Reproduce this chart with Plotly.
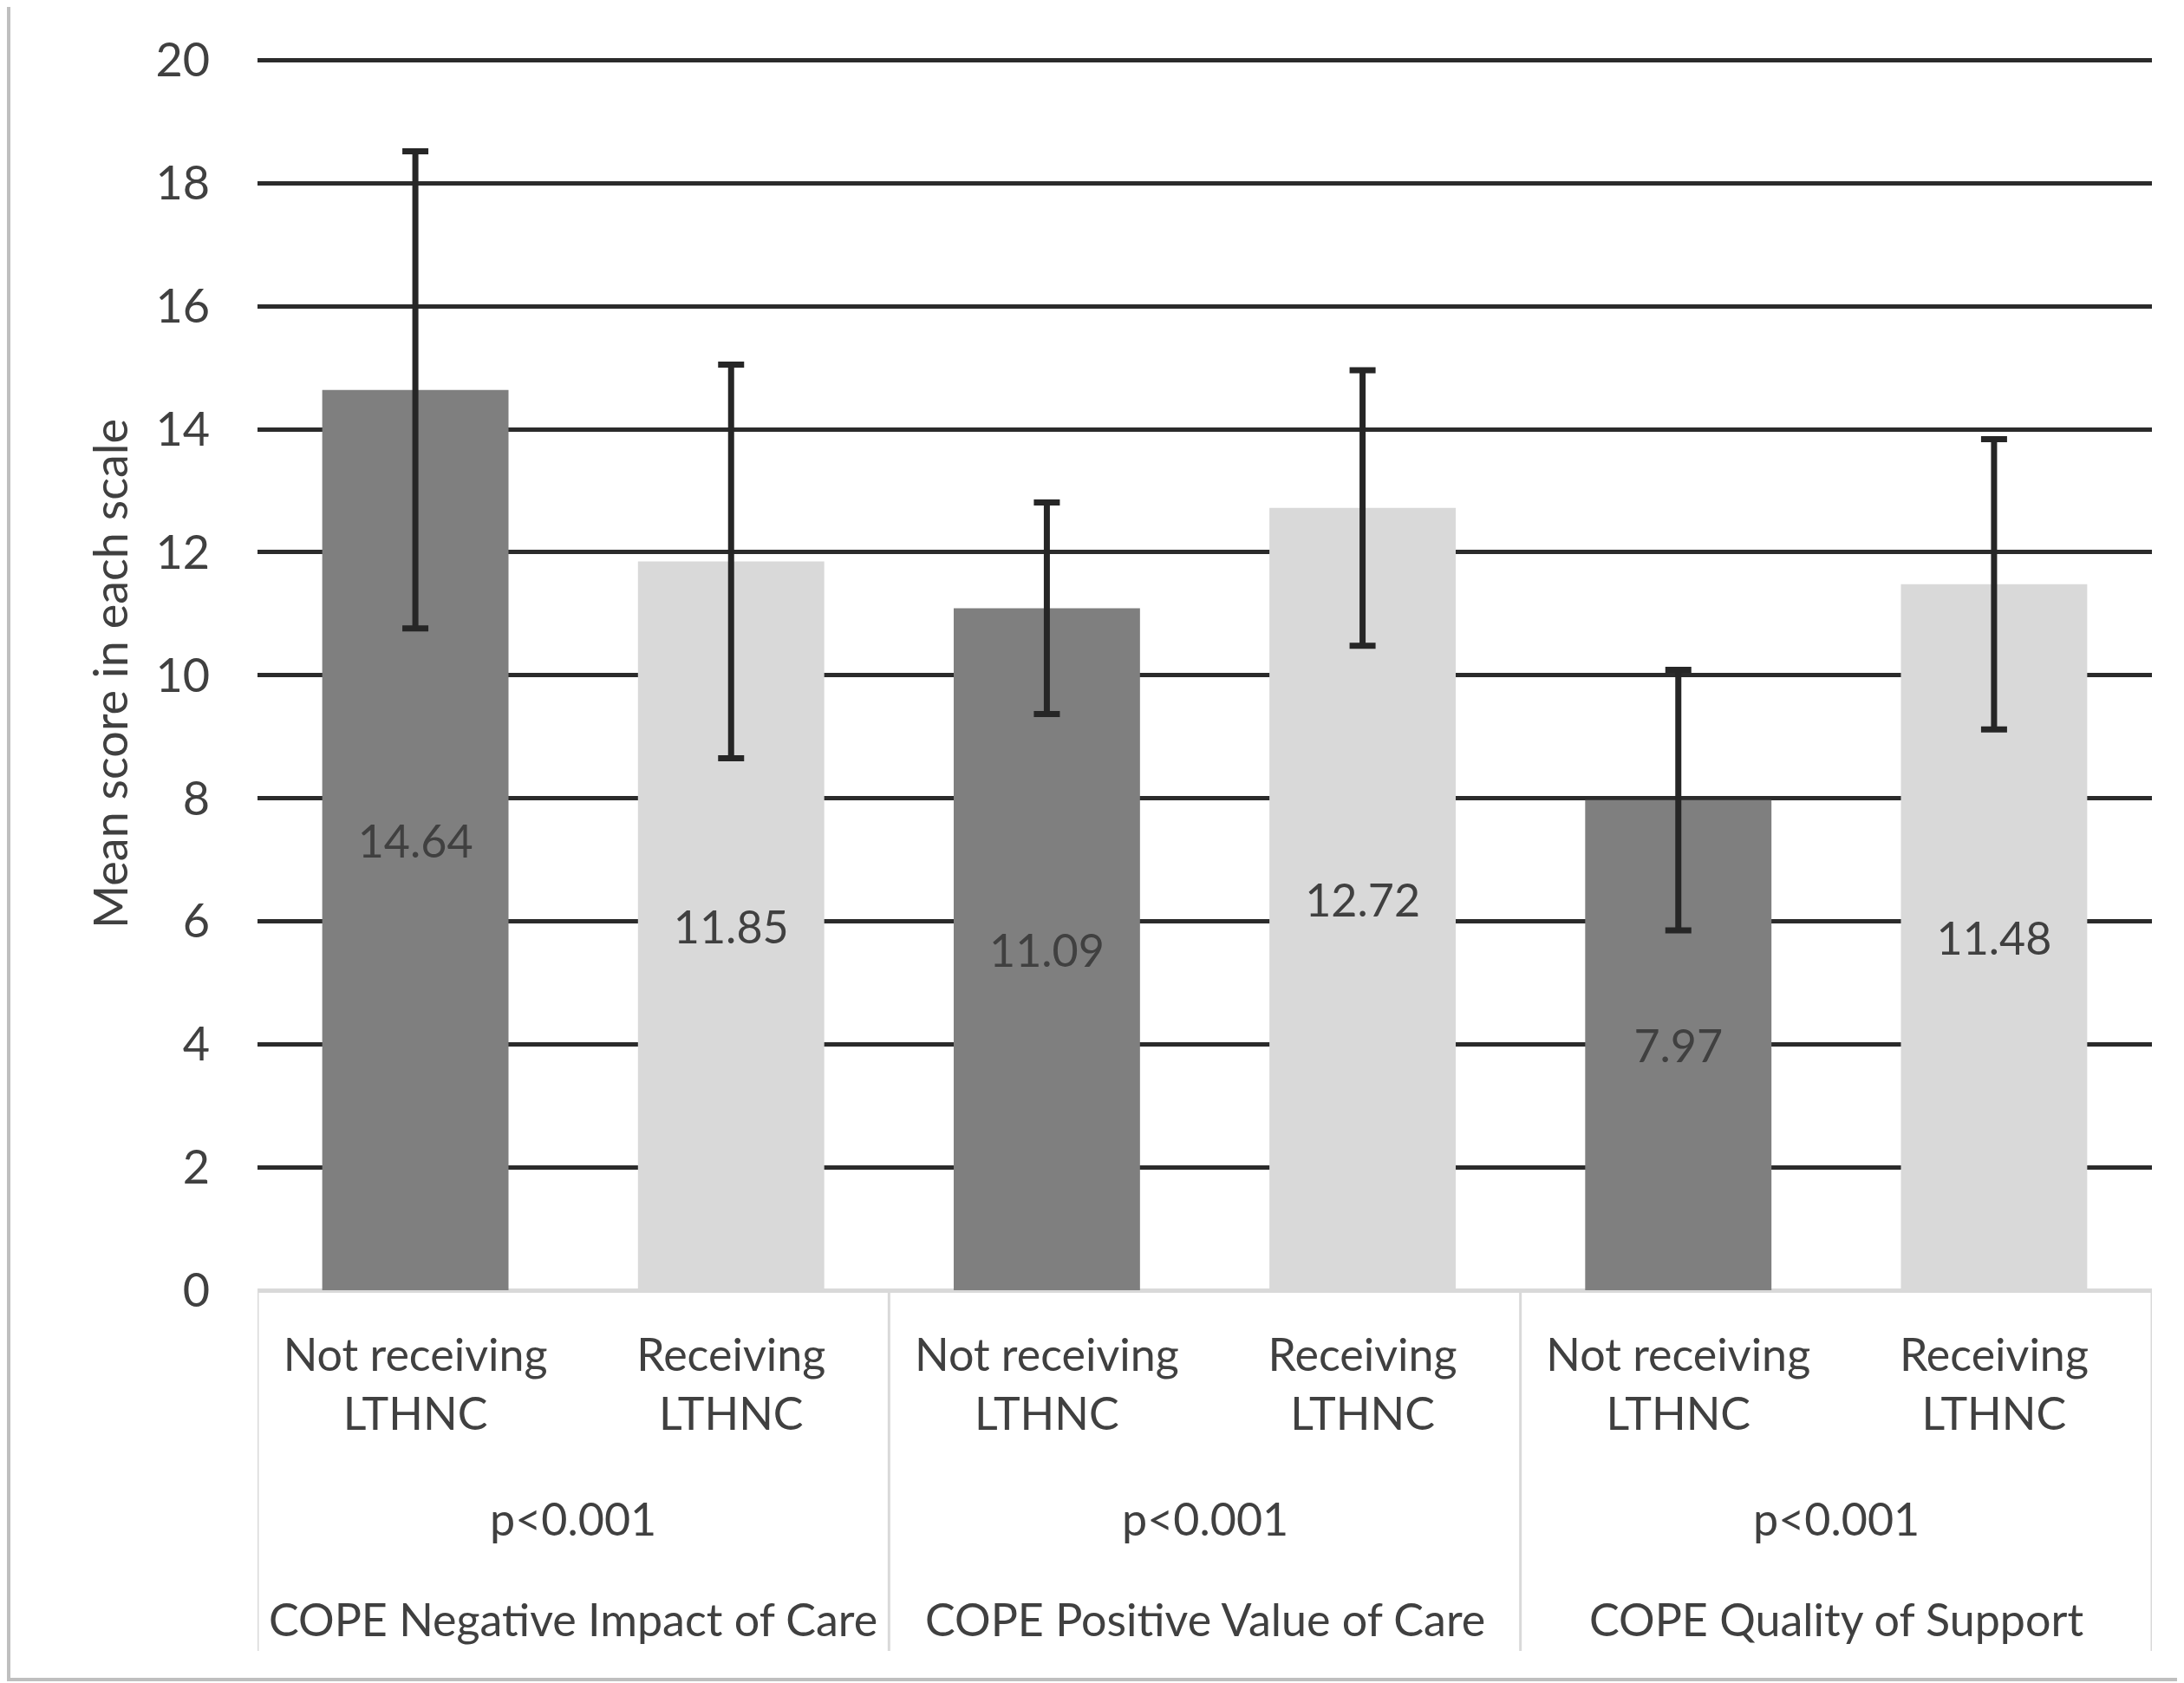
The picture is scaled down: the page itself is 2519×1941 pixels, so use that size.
import plotly.graph_objects as go

groups = ["COPE Negative Impact of Care", "COPE Positive Value of Care", "COPE Quality of Support"]
p_values = ["p<0.001", "p<0.001", "p<0.001"]
subgroups = ["Not receiving<br>LTHNC", "Receiving<br>LTHNC"]
means = [14.64, 11.85, 11.09, 12.72, 7.97, 11.48]
sds = [3.88, 3.20, 1.72, 2.24, 2.12, 2.36]
bar_colors = ["#7f7f7f", "#d9d9d9"]
y_ticks = [0, 2, 4, 6, 8, 10, 12, 14, 16, 18, 20]

OFF = 8  # page body margin
W, H = 2519 - OFF, 1941 - OFF
ML, MR, MT, MB = 297 - OFF, 37, 66 - OFF, 461 - OFF
PW, PH = W - ML - MR, H - MT - MB
BOTTOM = MT + PH  # plot bottom in figure px
FONT = "Lato"
TXT = "#404040"

n_sub = len(subgroups)
x_idx = list(range(len(means)))
tick_text = [subgroups[i % n_sub] for i in x_idx]
colors = [bar_colors[i % n_sub] for i in x_idx]

fig = go.Figure()
fig.add_trace(go.Bar(
    x=x_idx, y=means, width=0.59,
    marker=dict(color=colors, line=dict(width=0)),
    error_y=dict(type="data", array=sds, visible=True, color="#262626", thickness=7, width=15),
    text=[f"{m:.2f}" for m in means], textposition="inside", insidetextanchor="middle",
    textfont=dict(family=FONT, size=52, color=TXT), constraintext="none",
    showlegend=False, hoverinfo="skip",
))

shapes = []
annotations = []
for g in range(len(groups) + 1):
    xb = g * n_sub - 0.5
    shapes.append(dict(type="line", xref="x", yref="paper", x0=xb, x1=xb,
                       y0=0, y1=-(1904 - OFF - BOTTOM) / PH,
                       line=dict(color="#d9d9d9", width=3)))
for g, name in enumerate(groups):
    xc = g * n_sub + (n_sub - 1) / 2
    annotations.append(dict(x=xc, xref="x", y=-(1751 - OFF - BOTTOM) / PH, yref="paper",
                            text=p_values[g], showarrow=False, yanchor="middle",
                            font=dict(family=FONT, size=52, color=TXT)))
    annotations.append(dict(x=xc, xref="x", y=-(1867 - OFF - BOTTOM) / PH, yref="paper",
                            text=name, showarrow=False, yanchor="middle",
                            font=dict(family=FONT, size=52, color=TXT)))

# outer chart border
shapes.append(dict(type="rect", xref="paper", yref="paper",
                   x0=-(ML - 2) / PW, x1=(PW + MR + 10) / PW,
                   y0=-(MB - 4) / PH, y1=(PH + MT + 10) / PH,
                   line=dict(color="#bfbfbf", width=4)))

fig.update_layout(
    width=W, height=H,
    margin=dict(l=ML, r=MR, t=MT, b=MB, autoexpand=False),
    plot_bgcolor="white", paper_bgcolor="white",
    shapes=shapes, annotations=annotations,
    xaxis=dict(range=[-0.5, len(means) - 0.5], tickvals=x_idx, ticktext=tick_text,
               showgrid=False, zeroline=False, showline=False,
               ticks="outside", ticklen=30, tickcolor="rgba(0,0,0,0)",
               tickfont=dict(family=FONT, size=52, color=TXT)),
    yaxis=dict(range=[0, 20.05], tickvals=y_ticks,
               showgrid=True, gridcolor="#2b2b2b", gridwidth=5,
               zeroline=True, zerolinecolor="#d9d9d9", zerolinewidth=5,
               showline=False, ticks="outside", ticklen=43, tickcolor="rgba(0,0,0,0)",
               tickfont=dict(family=FONT, size=54, color=TXT),
               title=dict(text="Mean score in each scale", standoff=14,
                          font=dict(family=FONT, size=54, color=TXT))),
)

fig.write_html("out.html")
